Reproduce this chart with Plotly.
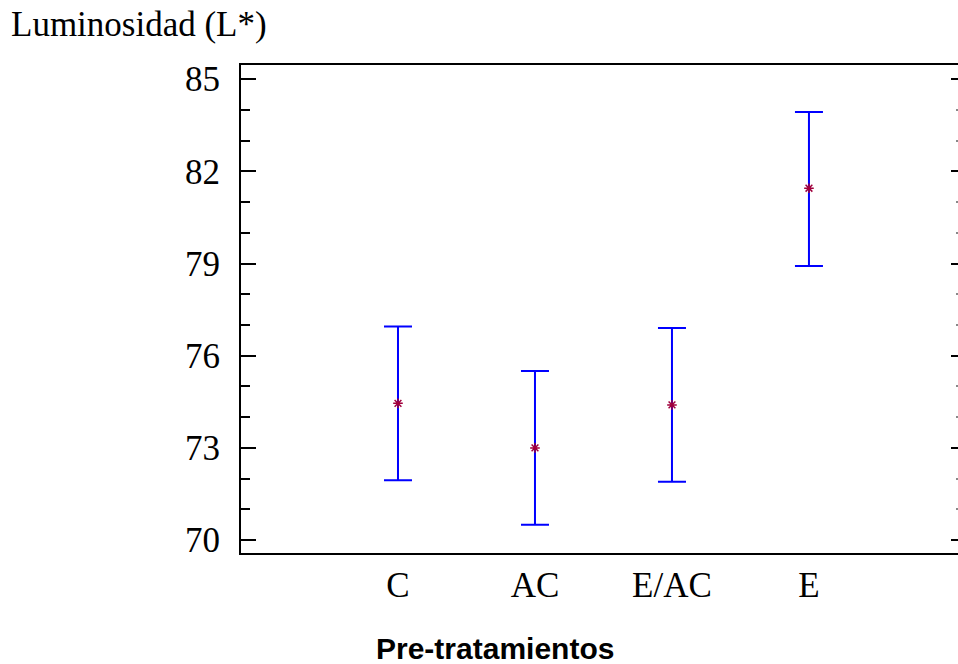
import plotly.graph_objects as go

categories = ["C", "AC", "E/AC", "E"]
means = [74.45, 73.0, 74.4, 81.45]
upper = [76.95, 75.5, 76.9, 83.93]
lower = [71.95, 70.5, 71.9, 78.92]
y_ticks = [70, 73, 76, 79, 82, 85]

err_plus = [u - m for u, m in zip(upper, means)]
err_minus = [m - l for m, l in zip(means, lower)]
xidx = list(range(len(categories)))

fig = go.Figure()
fig.add_trace(go.Scatter(
    x=xidx, y=means, mode="markers",
    marker=dict(symbol="asterisk-open", size=8, color="#a0003c",
                line=dict(color="#a0003c", width=1.5)),
    error_y=dict(type="data", symmetric=False, array=err_plus, arrayminus=err_minus,
                 color="#0000ff", thickness=2, width=14),
    showlegend=False, hoverinfo="skip"))
# invisible trace for the mirrored right-hand axis ticks
fig.add_trace(go.Scatter(x=xidx, y=means, yaxis="y2", mode="markers",
                         marker=dict(opacity=0), showlegend=False, hoverinfo="skip"))

serif = "Liberation Serif, Times New Roman, serif"

fig.update_layout(
    width=958, height=664,
    margin=dict(l=241, r=0, t=65, b=111),
    paper_bgcolor="white", plot_bgcolor="white",
    xaxis=dict(
        range=[-1.146, 4.088], tickmode="array", tickvals=xidx, ticktext=categories,
        showline=True, linecolor="black", linewidth=2, mirror=True,
        ticks="", showgrid=False, zeroline=False,
        tickfont=dict(family=serif, size=35, color="black"),
        ticklabelstandoff=0,
    ),
    yaxis=dict(
        range=[69.58, 85.46], tickmode="array", tickvals=y_ticks,
        showline=True, linecolor="black", linewidth=2, mirror=False,
        ticks="inside", ticklen=15, tickwidth=2, tickcolor="black",
        minor=dict(dtick=1, ticks="inside", ticklen=9, tickwidth=2, tickcolor="black", showgrid=False),
        showgrid=False, zeroline=False,
        tickfont=dict(family=serif, size=35, color="black"),
        ticklabelstandoff=12,
    ),
    yaxis2=dict(
        overlaying="y", side="right", matches="y", range=[69.58, 85.46],
        tickmode="array", tickvals=y_ticks, showticklabels=False,
        showline=False, ticks="inside", ticklen=7, tickwidth=2, tickcolor="black",
        minor=dict(dtick=1, ticks="inside", ticklen=2, tickwidth=2, tickcolor="#888", showgrid=False),
        showgrid=False, zeroline=False,
    ),
    annotations=[
        dict(text="Luminosidad (L*)", xref="paper", yref="paper",
             x=(10 - 241) / 717, y=(553 - 25) / 488, xanchor="left", yanchor="middle",
             showarrow=False, borderpad=0, font=dict(family=serif, size=35, color="black")),
        dict(text="<b>Pre-tratamientos</b>", xref="paper", yref="paper",
             x=(495 - 241) / 717, y=(553 - 648) / 488, xanchor="center", yanchor="middle",
             showarrow=False, borderpad=0,
             font=dict(family="Liberation Sans, Arial, sans-serif", size=30, color="black")),
    ],
)

fig.write_html("out.html")
